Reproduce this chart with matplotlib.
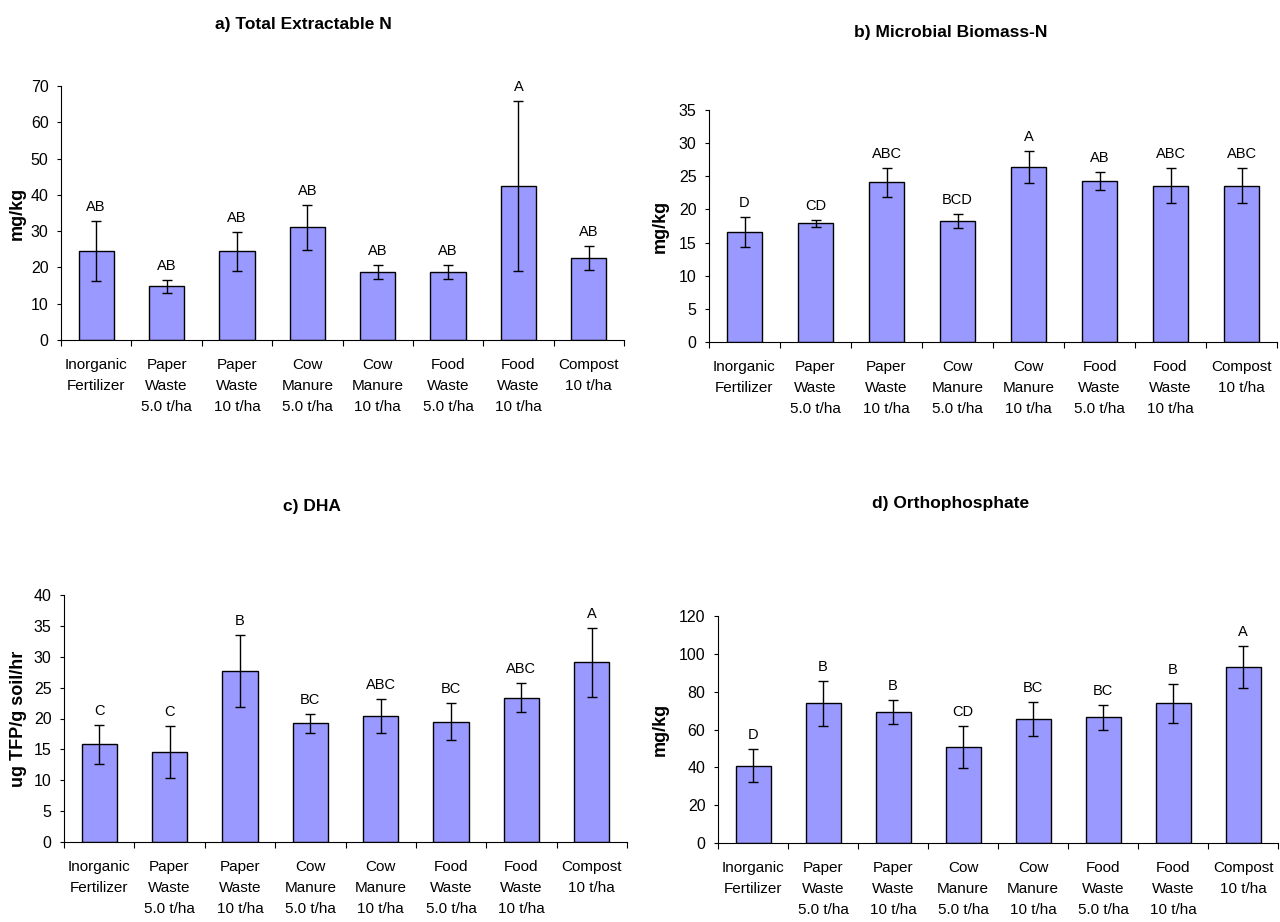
import matplotlib
matplotlib.use("Agg")
import matplotlib.pyplot as plt
import numpy as np

plt.rcParams['font.family'] = ['Liberation Sans', 'DejaVu Sans']

# treatments (same order in every panel)
treatments = ["Inorganic\nFertilizer", "Paper\nWaste\n5.0 t/ha", "Paper\nWaste\n10 t/ha",
              "Cow\nManure\n5.0 t/ha", "Cow\nManure\n10 t/ha", "Food\nWaste\n5.0 t/ha",
              "Food\nWaste\n10 t/ha", "Compost\n10 t/ha"]

# a) total extractable N (mg/kg)
ext_n = [24.5, 14.8, 24.5, 31.1, 18.7, 18.7, 42.4, 22.6]
ext_n_err = [8.2, 1.8, 5.4, 6.2, 1.9, 1.9, 23.4, 3.4]
ext_n_grp = ["AB", "AB", "AB", "AB", "AB", "AB", "A", "AB"]

# b) microbial biomass N (mg/kg)
mbn = [16.6, 17.9, 24.1, 18.3, 26.4, 24.3, 23.6, 23.6]
mbn_err = [2.2, 0.5, 2.2, 1.05, 2.4, 1.3, 2.65, 2.65]
mbn_grp = ["D", "CD", "ABC", "BCD", "A", "AB", "ABC", "ABC"]

# c) dehydrogenase activity (ug TFP/g soil/hr)
dha = [15.8, 14.6, 27.7, 19.2, 20.4, 19.5, 23.4, 29.1]
dha_err = [3.1, 4.2, 5.8, 1.6, 2.75, 3.0, 2.4, 5.6]
dha_grp = ["C", "C", "B", "BC", "ABC", "BC", "ABC", "A"]

# d) orthophosphate (mg/kg)
ortho = [40.9, 73.8, 69.2, 50.8, 65.7, 66.4, 73.8, 93.1]
ortho_err = [8.9, 12.0, 6.5, 11.0, 9.0, 6.4, 10.5, 11.2]
ortho_grp = ["D", "B", "B", "CD", "BC", "BC", "B", "A"]

W, H = 1280, 922
fig = plt.figure(figsize=(12.8, 9.22), dpi=100)


def px_axes(left, right, top, bottom):
    return fig.add_axes([left / W, 1 - bottom / H, (right - left) / W, (bottom - top) / H])


def bar_panel(ax, vals, errs, groups, ymax, ystep, ylabel, label_x):
    x = np.arange(len(vals))
    ax.bar(x, vals, width=0.5, color="#9999ff", edgecolor="black", linewidth=1.0, zorder=2)
    ax.errorbar(x, vals, yerr=errs, fmt="none", ecolor="black", elinewidth=1.0,
                capsize=3.5, capthick=1.0, zorder=3)
    for xi, v, e, g in zip(x, vals, errs, groups):
        ax.annotate(g, (xi, v + e), xytext=(0, 5), textcoords="offset points",
                    ha="center", va="bottom", fontsize=10.5)

    ax.set_xlim(-0.5, len(vals) - 0.5)
    ax.set_ylim(0, ymax)
    ax.set_yticks(np.arange(0, ymax + ystep / 2, ystep))
    ax.tick_params(axis="y", direction="out", length=3, width=0.8, pad=6, labelsize=11.5)

    # tick marks between categories, labels under the bars
    ax.set_xticks(np.arange(len(vals) + 1) - 0.5)
    ax.set_xticklabels([])
    ax.set_xticks(x, minor=True)
    ax.set_xticklabels(treatments, minor=True)
    ax.tick_params(axis="x", which="major", direction="out", length=4, width=0.8)
    ax.tick_params(axis="x", which="minor", length=0, pad=13, labelsize=11)
    for lbl in ax.get_xticklabels(minor=True):
        lbl.set_linespacing(1.62)
        lbl.set_multialignment("center")

    for s in ("top", "right"):
        ax.spines[s].set_visible(False)
    for s in ("left", "bottom"):
        ax.spines[s].set_linewidth(0.8)

    ax.set_ylabel(ylabel, fontsize=13, fontweight="bold")
    ax.yaxis.set_label_coords(label_x, 0.5)


ax_a = px_axes(61, 624, 86, 340)
bar_panel(ax_a, ext_n, ext_n_err, ext_n_grp, 70, 10, "mg/kg", -0.062)

ax_b = px_axes(709, 1277, 110, 342)
bar_panel(ax_b, mbn, mbn_err, mbn_grp, 35, 5, "mg/kg", -0.070)

ax_c = px_axes(64, 627, 595, 842)
bar_panel(ax_c, dha, dha_err, dha_grp, 40, 5, "ug TFP/g soil/hr", -0.066)

ax_d = px_axes(718, 1278, 616, 843)
bar_panel(ax_d, ortho, ortho_err, ortho_grp, 120, 20, "mg/kg", -0.0875)

titles = [("a) Total Extractable N", 303, 25), ("b) Microbial Biomass-N", 951, 32),
          ("c) DHA", 312, 507), ("d) Orthophosphate", 951, 503)]
for t, tx, ty in titles:
    fig.text(tx / W, 1 - ty / H, t, ha="center", va="center", fontsize=12.5, fontweight="bold")

fig.savefig("out.png", dpi=100, facecolor="white")
